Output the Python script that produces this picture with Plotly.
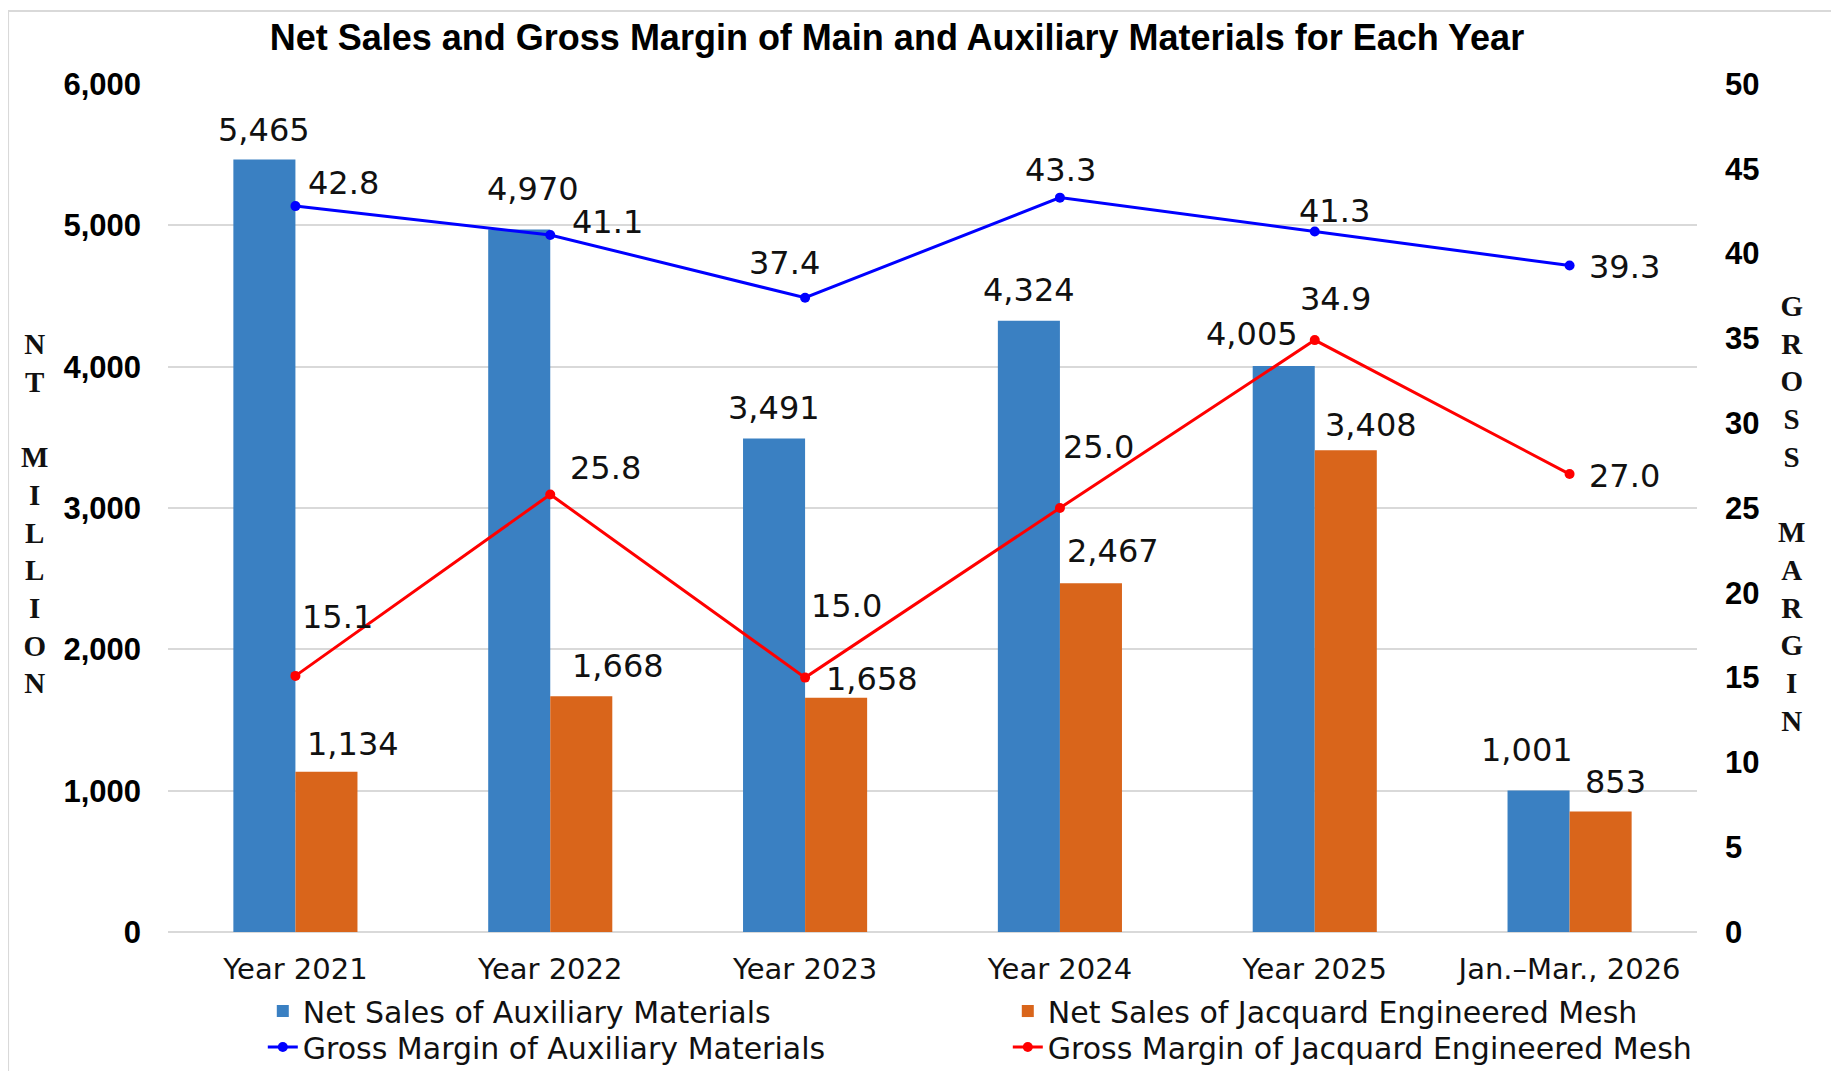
import plotly.graph_objects as go

# chart values
categories = ["Year 2021", "Year 2022", "Year 2023", "Year 2024", "Year 2025", "Jan.–Mar., 2026"]
aux_sales = [5465, 4970, 3491, 4324, 4005, 1001]
mesh_sales = [1134, 1668, 1658, 2467, 3408, 853]
aux_margin = [42.8, 41.1, 37.4, 43.3, 41.3, 39.3]
mesh_margin = [15.1, 25.8, 15.0, 25.0, 34.9, 27.0]
left_ticks = [0, 1000, 2000, 3000, 4000, 5000, 6000]
right_ticks = [0, 5, 10, 15, 20, 25, 30, 35, 40, 45, 50]

# label nudges in px (dx, dy) so labels sit like the original
aux_sales_nudge = [(0, 30), (14, 41), (0, 31), (0, 31), (-32, 32), (-12, 41)]
mesh_sales_nudge = [(27, 28), (37, 30), (36, 19), (22, 32), (25, 25), (15, 29)]
aux_margin_nudge = [(48, 23), (57, 13), (-21, 35), (1, 28), (20, 21), (55, -2)]
mesh_margin_nudge = [(42, 59), (55, 26), (41, 72), (39, 61), (21, 41), (55, -2)]

half_bar = 31
label_font = dict(family="DejaVu Sans", size=32, color="#111111")
text_font = "DejaVu Sans"
tick_font = "Liberation Sans"

fig = go.Figure()

fig.add_trace(go.Bar(x=categories, y=aux_sales, name="Net Sales of Auxiliary Materials",
                     marker=dict(color="#3a80c2", line=dict(width=0)), legend="legend"))
fig.add_trace(go.Bar(x=categories, y=mesh_sales, name="Net Sales of Jacquard Engineered Mesh",
                     marker=dict(color="#d9651b", line=dict(width=0)), legend="legend"))
fig.add_trace(go.Scatter(x=categories, y=aux_margin, yaxis="y2", mode="lines+markers",
                         name="Gross Margin of Auxiliary Materials", legend="legend2",
                         line=dict(color="#0000ff", width=3), marker=dict(size=10, color="#0000ff")))
fig.add_trace(go.Scatter(x=categories, y=mesh_margin, yaxis="y2", mode="lines+markers",
                         name="Gross Margin of Jacquard Engineered Mesh", legend="legend2",
                         line=dict(color="#ff0000", width=3), marker=dict(size=10, color="#ff0000")))

annotations = []
for c, v, (dx, dy) in zip(categories, aux_sales, aux_sales_nudge):
    annotations.append(dict(x=c, y=v, xref="x", yref="y", text=f"{v:,}", showarrow=False,
                            xshift=-half_bar + dx, yshift=dy, font=label_font))
for c, v, (dx, dy) in zip(categories, mesh_sales, mesh_sales_nudge):
    annotations.append(dict(x=c, y=v, xref="x", yref="y", text=f"{v:,}", showarrow=False,
                            xshift=half_bar + dx, yshift=dy, font=label_font))
for c, v, (dx, dy) in zip(categories, aux_margin, aux_margin_nudge):
    annotations.append(dict(x=c, y=v, xref="x", yref="y2", text=f"{v:.1f}", showarrow=False,
                            xshift=dx, yshift=dy, font=label_font))
for c, v, (dx, dy) in zip(categories, mesh_margin, mesh_margin_nudge):
    annotations.append(dict(x=c, y=v, xref="x", yref="y2", text=f"{v:.1f}", showarrow=False,
                            xshift=dx, yshift=dy, font=label_font))

# stacked-letter axis titles
title_font = dict(family="Liberation Serif", size=29, color="#111111", weight="bold")
annotations.append(dict(x=-0.087, y=0.493, xref="paper", yref="paper", showarrow=False,
                        text="<br>".join(list("NT") + [" "] + list("MILLION")),
                        xanchor="center", yanchor="middle", font=title_font))
annotations.append(dict(x=1.062, y=0.493, xref="paper", yref="paper", showarrow=False,
                        text="<br>".join(list("GROSS") + [" "] + list("MARGIN")),
                        xanchor="center", yanchor="middle", font=title_font))

legend_common = dict(orientation="h", xanchor="left", yanchor="middle", yref="container",
                     font=dict(family=text_font, size=30, color="#111111"),
                     entrywidth=700, entrywidthmode="pixels", traceorder="normal",
                     bgcolor="rgba(0,0,0,0)")

fig.update_layout(
    width=1831, height=1063,
    margin=dict(l=160, r=142, t=76, b=139, autoexpand=False),
    paper_bgcolor="white", plot_bgcolor="white",
    barmode="group", bargap=0.513, bargroupgap=0,
    title=dict(text="<b>Net Sales and Gross Margin of Main and Auxiliary Materials for Each Year</b>",
               x=0.4855, xref="container", y=0.972, yref="container", xanchor="center", yanchor="middle",
               font=dict(family=tick_font, size=36, color="black")),
    xaxis=dict(tickfont=dict(family=text_font, size=29, color="#111111"),
               showgrid=False, showline=False, ticklabelstandoff=17),
    yaxis=dict(range=[0, 6000], tickvals=left_ticks, tickformat=",d",
               tickfont=dict(family=tick_font, size=31, color="black", weight="bold"),
               showgrid=True, gridcolor="#d9d9d9", gridwidth=2, zeroline=True,
               zerolinecolor="#d9d9d9", zerolinewidth=2, ticklabelstandoff=26),
    yaxis2=dict(range=[0, 50], tickvals=right_ticks, overlaying="y", side="right",
                tickfont=dict(family=tick_font, size=31, color="black", weight="bold"),
                showgrid=False, zeroline=False, ticklabelstandoff=27),
    legend=dict(x=0.062, y=0.0564, **legend_common),
    legend2=dict(x=0.062, y=0.0226, **legend_common),
    annotations=annotations,
    shapes=[dict(type="rect", xref="paper", yref="paper", x0=-0.1046, x1=1.1, y0=-0.2, y1=1.086,
                 line=dict(color="#d9d9d9", width=2), layer="below")],
)

fig.write_html("out.html")
